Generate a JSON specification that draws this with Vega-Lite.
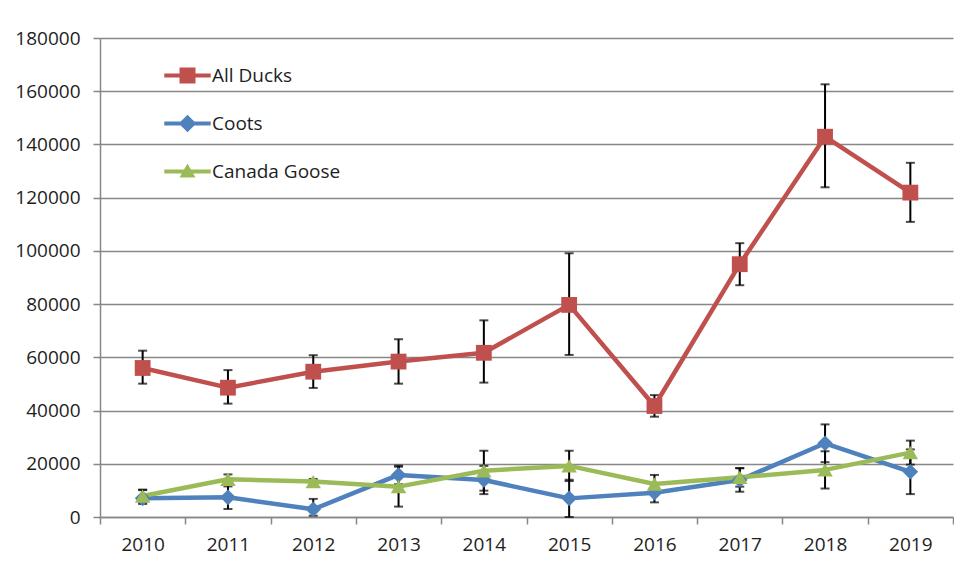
{
  "$schema": "https://vega.github.io/schema/vega-lite/v6.json",
  "width": 853,
  "height": 479,
  "autosize": "none",
  "padding": {"left": 100, "top": 38, "right": 1, "bottom": 61},
  "background": "white",
  "config": {"view": {"stroke": null}, "font": "Open Sans"},
  "data": {"values": [
    {"year": "2010", "series": "All Ducks", "value": 56000, "lo": 50100, "hi": 62500},
    {"year": "2011", "series": "All Ducks", "value": 48600, "lo": 42600, "hi": 55200},
    {"year": "2012", "series": "All Ducks", "value": 54600, "lo": 48500, "hi": 60800},
    {"year": "2013", "series": "All Ducks", "value": 58400, "lo": 50100, "hi": 66800},
    {"year": "2014", "series": "All Ducks", "value": 61700, "lo": 50500, "hi": 73900},
    {"year": "2015", "series": "All Ducks", "value": 79700, "lo": 60900, "hi": 99100},
    {"year": "2016", "series": "All Ducks", "value": 41700, "lo": 37700, "hi": 45800},
    {"year": "2017", "series": "All Ducks", "value": 95000, "lo": 87100, "hi": 102900},
    {"year": "2018", "series": "All Ducks", "value": 142900, "lo": 123900, "hi": 162600},
    {"year": "2019", "series": "All Ducks", "value": 121900, "lo": 110900, "hi": 133100},
    {"year": "2010", "series": "Coots", "value": 7000, "lo": 4900, "hi": 10100},
    {"year": "2011", "series": "Coots", "value": 7400, "lo": 3000, "hi": 11500},
    {"year": "2012", "series": "Coots", "value": 2900, "lo": 500, "hi": 6800},
    {"year": "2013", "series": "Coots", "value": 15800, "lo": 12300, "hi": 19300},
    {"year": "2014", "series": "Coots", "value": 13900, "lo": 8600, "hi": 19200},
    {"year": "2015", "series": "Coots", "value": 7000, "lo": 0, "hi": 14000},
    {"year": "2016", "series": "Coots", "value": 9100, "lo": 5500, "hi": 12700},
    {"year": "2017", "series": "Coots", "value": 13900, "lo": 9500, "hi": 18300},
    {"year": "2018", "series": "Coots", "value": 27700, "lo": 20600, "hi": 34800},
    {"year": "2019", "series": "Coots", "value": 17000, "lo": 8600, "hi": 25400},
    {"year": "2010", "series": "Canada Goose", "value": 7900, "lo": 5500, "hi": 10300},
    {"year": "2011", "series": "Canada Goose", "value": 14200, "lo": 12400, "hi": 16000},
    {"year": "2012", "series": "Canada Goose", "value": 13300, "lo": 12300, "hi": 14300},
    {"year": "2013", "series": "Canada Goose", "value": 11400, "lo": 3900, "hi": 18900},
    {"year": "2014", "series": "Canada Goose", "value": 17400, "lo": 9900, "hi": 24900},
    {"year": "2015", "series": "Canada Goose", "value": 19200, "lo": 13500, "hi": 24900},
    {"year": "2016", "series": "Canada Goose", "value": 12400, "lo": 9000, "hi": 15800},
    {"year": "2017", "series": "Canada Goose", "value": 14900, "lo": 11400, "hi": 18400},
    {"year": "2018", "series": "Canada Goose", "value": 17700, "lo": 10700, "hi": 24700},
    {"year": "2019", "series": "Canada Goose", "value": 24200, "lo": 19700, "hi": 28700}
  ]},
  "encoding": {
    "x": {
      "field": "year", "type": "ordinal",
      "scale": {"type": "band", "paddingInner": 0, "paddingOuter": 0},
      "axis": {
        "title": null, "labelAngle": 0, "tickBand": "extent",
        "tickSize": 7, "tickColor": "#878787", "tickWidth": 1.5,
        "domainColor": "#878787", "domainWidth": 1.5,
        "labelFontSize": 19, "labelFont": "Open Sans", "labelColor": "#1e1e1e",
        "labelPadding": 11, "grid": false
      }
    }
  },
  "layer": [
    {
      "mark": {"type": "rule", "color": "black", "strokeWidth": 2},
      "encoding": {
        "y": {"field": "lo", "type": "quantitative",
          "scale": {"domain": [0, 180000], "nice": false},
          "axis": {
            "title": null, "values": [0, 20000, 40000, 60000, 80000, 100000, 120000, 140000, 160000, 180000],
            "format": "d", "grid": true, "gridColor": "#878787", "gridWidth": 1.5,
            "tickSize": 7, "tickColor": "#878787", "tickWidth": 1.5,
            "domainColor": "#878787", "domainWidth": 1.5,
            "labelFontSize": 19, "labelFont": "Open Sans", "labelColor": "#1e1e1e",
            "labelPadding": 13
          }},
        "y2": {"field": "hi"}
      }
    },
    {
      "mark": {"type": "tick", "color": "black", "size": 9, "thickness": 2, "orient": "horizontal"},
      "encoding": {"y": {"field": "lo", "type": "quantitative"}}
    },
    {
      "mark": {"type": "tick", "color": "black", "size": 9, "thickness": 2, "orient": "horizontal"},
      "encoding": {"y": {"field": "hi", "type": "quantitative"}}
    },
    {
      "mark": {"type": "line", "strokeWidth": 4.5, "strokeJoin": "round", "strokeCap": "round"},
      "encoding": {
        "y": {"field": "value", "type": "quantitative"},
        "color": {"field": "series", "type": "nominal",
          "scale": {"domain": ["All Ducks", "Coots", "Canada Goose"], "range": ["#C0504D", "#4F81BD", "#9BBB59"]},
          "legend": null}
      }
    },
    {
      "mark": {"type": "point", "filled": true, "opacity": 1},
      "encoding": {
        "y": {"field": "value", "type": "quantitative"},
        "color": {"field": "series", "type": "nominal", "legend": null},
        "size": {"field": "series", "type": "nominal",
          "scale": {"domain": ["All Ducks", "Coots", "Canada Goose"], "range": [250, 240, 330]},
          "legend": null},
        "shape": {"field": "series", "type": "nominal",
          "scale": {"domain": ["All Ducks", "Coots", "Canada Goose"], "range": ["square", "diamond", "triangle-up"]},
          "legend": null}
      }
    },
    {
      "mark": {"type": "point", "filled": true, "opacity": 0, "size": 256},
      "encoding": {
        "y": {"field": "value", "type": "quantitative"},
        "color": {"field": "series", "type": "nominal",
          "legend": {
            "orient": "none", "legendX": 78, "legendY": 28, "title": null, "padding": 0,
            "symbolSize": 256, "symbolStrokeWidth": 0, "symbolOpacity": 1,
            "labelOffset": 15, "labelFontSize": 19, "labelFont": "Open Sans", "labelColor": "#1e1e1e",
            "rowPadding": 28,
            "encode": {"symbols": {"update": {"opacity": {"value": 1}}}}
          }},
        "shape": {"field": "series", "type": "nominal",
          "scale": {"domain": ["All Ducks", "Coots", "Canada Goose"], "range": [
            "M-2.9,-0.25H2.9V0.25H-2.9Z M-1,-1H1V1H-1Z",
            "M-2.9,-0.25H2.9V0.25H-2.9Z M0,-1.1L1.1,0L0,1.1L-1.1,0Z",
            "M-2.9,-0.25H2.9V0.25H-2.9Z M0,-1L1,0.75L-1,0.75Z"
          ]},
          "legend": {
            "orient": "none", "legendX": 78, "legendY": 28, "title": null, "padding": 0,
            "symbolSize": 256, "symbolStrokeWidth": 0, "symbolOpacity": 1,
            "labelOffset": 15, "labelFontSize": 19, "labelFont": "Open Sans", "labelColor": "#1e1e1e",
            "rowPadding": 28,
            "encode": {"symbols": {"update": {"opacity": {"value": 1}}}}
          }}
      }
    }
  ],
  "resolve": {"scale": {"shape": "independent"}, "legend": {"color": "independent", "shape": "independent"}}
}
